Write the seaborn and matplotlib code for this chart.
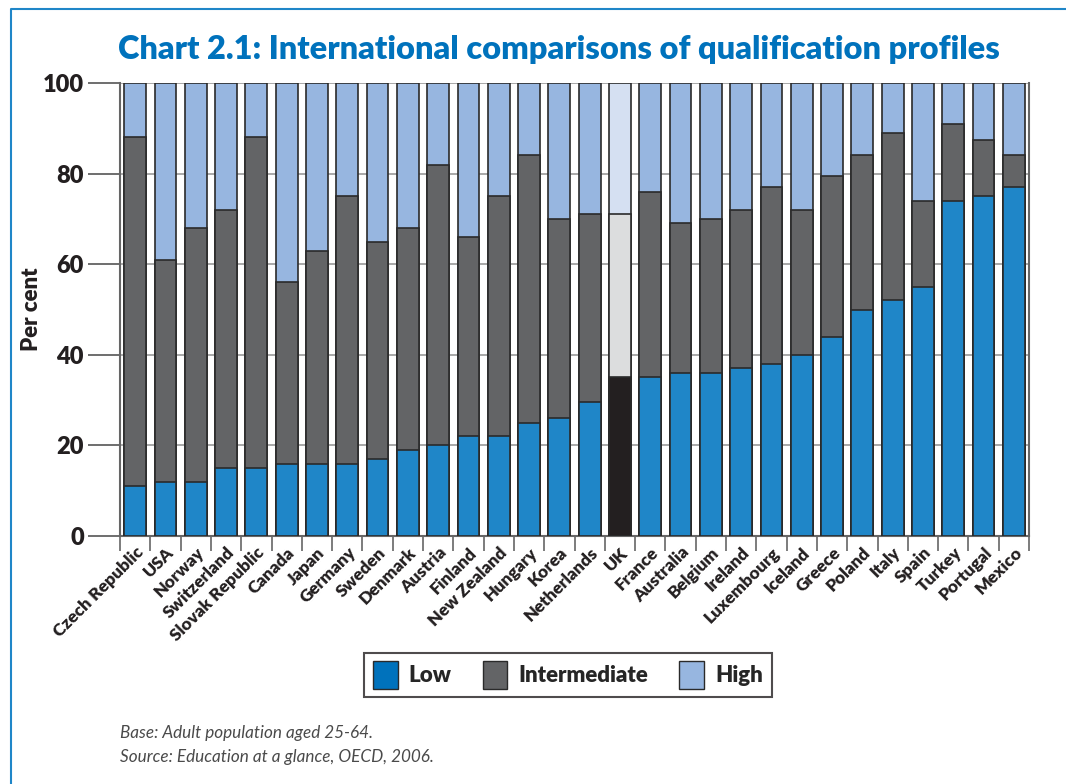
import numpy as np
import pandas as pd
import matplotlib
matplotlib.use("Agg")
import matplotlib.pyplot as plt
from matplotlib.lines import Line2D
from matplotlib.patches import Patch
import seaborn as sns

countries = ["Czech Republic", "USA", "Norway", "Switzerland", "Slovak Republic", "Canada",
             "Japan", "Germany", "Sweden", "Denmark", "Austria", "Finland", "New Zealand",
             "Hungary", "Korea", "Netherlands", "UK", "France", "Australia", "Belgium",
             "Ireland", "Luxembourg", "Iceland", "Greece", "Poland", "Italy", "Spain",
             "Turkey", "Portugal", "Mexico"]
low = [11, 12, 12, 15, 15, 16, 16, 16, 17, 19, 20, 22, 22, 25, 26, 29.5, 35, 35, 36, 36,
       37, 38, 40, 44, 50, 52, 55, 74, 75, 77]
intermediate = [77, 49, 56, 57, 73, 40, 47, 59, 48, 49, 62, 44, 53, 59, 44, 41.5, 36, 41, 33, 34,
                35, 39, 32, 35.5, 34, 37, 19, 17, 12.5, 7]
high = [12, 39, 32, 28, 12, 44, 37, 25, 35, 32, 18, 34, 25, 16, 30, 29, 29, 24, 31, 30,
        28, 23, 28, 20.5, 16, 11, 26, 9, 12.5, 16]
series = ["Low", "Intermediate", "High"]

df = pd.DataFrame({"country": countries, "low": low, "mid": intermediate, "high": high})
df["top_mid"] = df["low"] + df["mid"]
df["total"] = df["top_mid"] + df["high"]

c_low, c_mid, c_high = "#1F86C8", "#636466", "#97B6E0"
uk_low, uk_mid, uk_high = "#231F20", "#DCDDDE", "#D5E0F2"
ink = "#231F20"

def pal(base, uk):
    return {c: (uk if c == "UK" else base) for c in countries}

sns.set_theme(style="white")
plt.rcParams["font.family"] = ["Lato", "DejaVu Sans"]

fig = plt.figure(figsize=(10.66, 7.84), dpi=100)
ax = fig.add_axes([120 / 1066, 1 - 536 / 784, 909 / 1066, 453 / 784])

for col, base, uk in [("total", c_high, uk_high), ("top_mid", c_mid, uk_mid), ("low", c_low, uk_low)]:
    sns.barplot(data=df, x="country", y=col, hue="country", palette=pal(base, uk), legend=False,
                width=0.72, edgecolor="#2a2a2a", linewidth=1.2, saturation=1, ax=ax, zorder=3)

ax.set_xlim(-0.5, len(countries) - 0.5)
ax.set_ylim(0, 100)
ax.set_yticks([0, 20, 40, 60, 80, 100])
ax.set_yticklabels(["0", "20", "40", "60", "80", "100"], fontsize=17, fontweight="heavy", color=ink)
ax.yaxis.grid(True, color="#999999", lw=1.2)
ax.set_axisbelow(True)
ax.tick_params(axis="y", length=23, width=1.2, color="#555555", pad=3, left=True)

ax.set_xticks(range(len(countries)))
ax.set_xticklabels(countries, rotation=45, ha="right", rotation_mode="anchor",
                   fontsize=12.5, fontweight="heavy", color=ink)
ax.tick_params(axis="x", which="major", length=0, pad=6)
ax.set_xticks(np.arange(-0.5, len(countries)), minor=True)
ax.tick_params(axis="x", which="minor", length=11, width=1.2, color="#666666", bottom=True)

for s in ["left", "right", "bottom"]:
    ax.spines[s].set_visible(True)
    ax.spines[s].set_color("#666666")
    ax.spines[s].set_linewidth(1.5)
ax.spines["top"].set_visible(False)

ax.set_xlabel("")
ax.set_ylabel("Per cent", fontsize=16, fontweight="heavy", color=ink)
ax.yaxis.set_label_coords(-78 / 909, 0.5)

fig.text(559 / 1066, 1 - 49 / 784, "Chart 2.1: International comparisons of qualification profiles",
         ha="center", va="center", fontsize=23.4, fontweight="heavy", color="#0072BC")

handles = [Patch(facecolor=c, edgecolor="#2a2a2a", lw=1) for c in ["#0072BC", c_mid, c_high]]
leg = fig.legend(handles, series, loc="center", bbox_to_anchor=(568 / 1066, 1 - 675 / 784), ncol=3,
                 frameon=True, fancybox=False, edgecolor=ink, prop={"weight": "heavy", "size": 16},
                 handlelength=1.1, handleheight=1.5, handletextpad=0.5, columnspacing=1.4,
                 borderpad=0.4)
leg.get_frame().set_linewidth(1.5)

fig.text(120 / 1066, 1 - 733 / 784, "Base: Adult population aged 25-64.", fontsize=12.3,
         style="italic", color="#4a4a4a", va="center")
fig.text(120 / 1066, 1 - 757 / 784, "Source: Education at a glance, OECD, 2006.", fontsize=12.3,
         style="italic", color="#4a4a4a", va="center")

fig.add_artist(Line2D([11 / 1066, 11 / 1066, 1], [0, 1 - 9 / 784, 1 - 9 / 784], color="#1F86C8", lw=1.5))

fig.savefig("out.png", dpi=100)
